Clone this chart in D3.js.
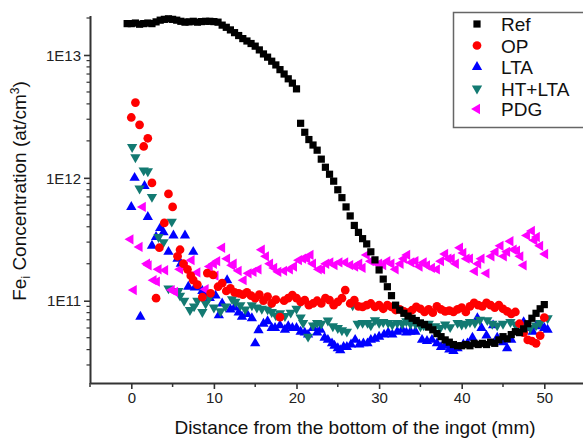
<!DOCTYPE html>
<html><head><meta charset="utf-8">
<script src="https://cdn.jsdelivr.net/npm/d3@7"></script>
<style>
html,body{margin:0;padding:0;background:#fff;}
svg{display:block;font-family:"Liberation Sans",Arial,sans-serif;}
</style></head>
<body><svg id="c" width="583" height="442"></svg>
<script>
// ---- data (x = distance in mm, y = Fe_i concentration in at/cm^3) ----
const seriesNames = ["Ref","OP","LTA","HT+LTA","PDG"];
const xTicks = [0,10,20,30,40,50];
const yTicks = [1e11,1e12,1e13];
const yTickLabels = ["1E11","1E12","1E13"];
const xLabel = "Distance from the bottom of the ingot (mm)";

const refX = [-0.5,0,0.5,1,1.5,2,2.5,3,3.5,4,4.5,5,5.5,6,6.5,7,7.5,8,8.5,9,9.5,10,10.5,11,11.5,12,12.5,13,13.5,14,14.5,15,15.5,16,16.5,17,17.5,18,18.5,19,19.5,20,
  20.5,21,21.5,22,22.5,23,23.5,24,24.5,25,25.5,26,26.5,27,27.5,28,28.5,29,29.5,30,30.5,31,31.5,32,32.5,33,33.5,34,34.5,35,35.5,36,36.5,37,37.5,38,38.5,39,39.5,40,40.5,41,41.5,42,42.5,43,43.5,44,44.5,45,45.5,46,46.5,47,47.5,48,48.5,49,49.5,50];
const refY = [1.80e13,1.80e13,1.82e13,1.78e13,1.80e13,1.82e13,1.80e13,1.86e13,1.92e13,1.95e13,1.97e13,1.95e13,1.92e13,1.88e13,1.85e13,1.86e13,1.88e13,1.85e13,1.87e13,1.88e13,1.88e13,1.87e13,1.85e13,1.75e13,1.68e13,1.60e13,1.52e13,1.44e13,1.36e13,1.30e13,1.24e13,1.18e13,1.10e13,1.02e13,9.6e12,8.9e12,8.3e12,7.6e12,7.0e12,6.4e12,5.9e12,5.3e12,
  2.78e12,2.35e12,2.05e12,1.85e12,1.68e12,1.42e12,1.22e12,1.07e12,9.4e11,8.0e11,6.9e11,5.8e11,4.9e11,4.1e11,3.6e11,3.2e11,2.9e11,2.5e11,2.15e11,1.78e11,1.5e11,1.3e11,1.1e11,9.2e10,8.4e10,7.9e10,7.5e10,7.2e10,6.9e10,6.6e10,6.4e10,6.1e10,5.8e10,5.4e10,5.1e10,4.8e10,4.6e10,4.4e10,4.3e10,4.3e10,4.4e10,4.3e10,4.5e10,4.4e10,4.5e10,4.4e10,4.6e10,4.5e10,4.8e10,5.1e10,4.9e10,5.3e10,5.6e10,5.5e10,5.9e10,6.5e10,7.2e10,7.9e10,8.6e10,9.3e10];

const opX = [0,0.5,1,1.5,2,2.5,3,3.4,4,4.5,5,5.6,5.9,6.3,6.8,7.2,7.5,8,8.6,9.2,9.6,9.9,10.5,11,11.5,12,12.5,13,13.5,14,14.5,15,15.5,16,16.5,17,17.5,18,18.5,19,19.5,20,20.5,21,21.5,22,22.5,23,23.5,24,24.5,25,25.5,25.9,26.5,27,27.5,28,28.5,29,29.5,30,30.5,31,31.5,32,32.5,33,33.5,34,34.5,35,35.5,36,36.5,37,37.5,38,38.5,39,39.5,40,40.5,41,41.5,42,42.5,43,43.5,44,44.5,45,45.5,46,46.5,47,47.5,48,48.5,49,49.5,50];
const opY = [3.1e12,4.1e12,2.7e12,1.8e12,2.1e12,9.1e11,1.05e11,2.7e11,4.3e11,7.4e11,5.8e11,2.3e11,2.6e11,2.0e11,1.8e11,1.6e11,1.47e11,1.35e11,1.07e11,1.68e11,1.15e11,1.62e11,1.3e11,1.39e11,1.2e11,1.26e11,1.17e11,1.15e11,1.12e11,1.17e11,1.1e11,1.05e11,1.12e11,1.0e11,1.08e11,9.5e10,1.02e11,7.35e10,1.0e11,1.05e11,1.11e11,1.05e11,9.8e10,1.01e11,9.2e10,9.5e10,1.0e11,9.5e10,1.05e11,1.01e11,9.2e10,9.8e10,1.05e11,1.22e11,9.5e10,1.01e11,9.0e10,8.9e10,9.2e10,9.5e10,8.9e10,9.2e10,8.6e10,9.2e10,8.9e10,8.4e10,8.5e10,8.2e10,8.0e10,8.4e10,8.9e10,8.6e10,8.1e10,8.5e10,8.0e10,9.0e10,8.5e10,8.2e10,8.3e10,8.1e10,8.5e10,8.8e10,8.1e10,9.0e10,9.6e10,9.2e10,9.0e10,9.6e10,9.2e10,8.8e10,9.2e10,8.6e10,8.2e10,7.8e10,8.1e10,6.5e10,5.5e10,4.8e10,4.7e10,4.5e10,5.2e10,7.3e10];

const ltaX = [0,0.4,1.1,1.6,2,2.5,3,3.5,3.9,4.5,5.1,5.6,6,6.5,6.9,7.5,7.7,8,8.6,9,9.5,10.2,10.6,11,11.6,12,12.5,13,13.4,14,14.6,15,15.4,16,16.5,17,17.4,18,18.6,19,19.5,20,20.5,21,21.4,22,22.5,22.9,23.4,23.8,24.3,24.6,25,25.3,25.7,26.1,26.6,27.1,27.6,28.1,28.6,29,29.5,30,30.6,31.1,31.6,32.2,32.8,33.3,33.8,34.4,35.2,35.8,36.4,37,37.5,38,38.5,39,39.5,40.2,40.7,41.3,41.9,42.4,43,43.8,44.3,45,45.5,46,46.6,47.5,48,48.6,49,49.5,50,50.4];
const ltaY = [5.8e11,1.0e12,7.4e10,8.6e11,4.8e11,2.8e11,3.3e11,3.9e11,3.6e11,2.5e11,3.4e11,2.2e11,2.0e11,3.4e11,1.3e11,2.5e11,1.28e11,1.3e11,1.2e11,1.15e11,1.05e11,1.1e11,7.6e10,9.5e10,1.47e11,8.5e10,8.8e10,8.0e10,7.4e10,7.8e10,7.2e10,4.5e10,5.75e10,6.5e10,6.8e10,6.0e10,6.0e10,6.3e10,5.8e10,6.2e10,6.0e10,6.0e10,5.6e10,5.5e10,5.3e10,6.0e10,5.5e10,5.8e10,5.0e10,4.8e10,4.5e10,4.3e10,4.1e10,3.96e10,4.2e10,4.2e10,4.4e10,4.8e10,4.4e10,4.5e10,4.5e10,4.8e10,4.9e10,5.1e10,5.3e10,5.5e10,5.3e10,5.6e10,5.8e10,5.5e10,5.6e10,5.6e10,4.8e10,4.7e10,4.8e10,4.5e10,4.2e10,4.3e10,4.0e10,3.9e10,4.1e10,4.4e10,4.5e10,5.0e10,7.2e10,6.0e10,5.2e10,6.3e10,5.0e10,4.6e10,4.1e10,4.8e10,5.6e10,6.7e10,6.0e10,5.6e10,6.2e10,6.3e10,6.0e10,5.8e10];

const htX = [0.1,0.5,1,1.5,2,2.5,3.3,3.9,4.5,4.9,5.7,5.9,6.4,7.1,7.6,8,8.6,9,9.4,10,10.8,11.4,12.2,12.6,13.2,13.8,14.6,15.2,15.8,16.5,17,17.5,18,18.6,19.3,20,20.5,20.8,21.4,22,22.5,23,23.8,24.4,25,25.5,26.1,26.8,27.4,28,28.6,29,29.5,30,30.5,31.1,31.6,32.2,32.8,33.3,33.8,34.4,35,35.4,36,36.8,37.4,38,38.6,39.5,40,40.5,41,41.6,42.2,43.1,43.7,44.3,45,45.9,46.5,47.1,47.7,48.3,49,49.5,50.4];
const htY = [1.78e12,1.47e12,8.2e11,1.15e12,1.13e12,7.0e11,3.3e11,3.0e11,1.26e11,4.4e11,1.2e11,1.1e11,1.0e11,8.4e10,9.0e10,1.0e11,8.1e10,9.5e10,1.05e11,8.8e10,8.2e10,9.0e10,1.03e11,9.8e10,9.2e10,8.5e10,9.2e10,8.8e10,8.6e10,8.5e10,8.1e10,7.6e10,7.9e10,7.5e10,8.0e10,8.6e10,7.3e10,6.6e10,5.1e10,6.3e10,6.6e10,6.5e10,6.9e10,6.2e10,6.0e10,5.75e10,5.6e10,9.2e10,6.5e10,6.6e10,6.6e10,6.3e10,6.95e10,6.6e10,6.7e10,6.6e10,6.4e10,6.6e10,6.5e10,6.8e10,6.5e10,6.5e10,6.2e10,6.3e10,6.5e10,6.2e10,6.0e10,6.4e10,6.1e10,6.6e10,6.4e10,6.5e10,6.7e10,6.6e10,7.0e10,6.95e10,6.5e10,6.3e10,6.5e10,6.7e10,6.4e10,6.1e10,6.0e10,6.0e10,6.3e10,6.6e10,7.2e10];

const pdgX = [-0.1,0.3,1,1.4,1.9,2.1,2.7,3.1,3.3,4.1,4.9,5.3,5.9,6.5,7.3,8,9,9.5,10,10.2,10.4,11,11.6,12.2,12.4,13,13.6,14.2,14.8,15.4,15.8,16.3,16.8,17.3,17.8,18.5,19.2,19.7,20.3,20.8,21.3,21.7,22,22.7,23.1,23.6,24.1,24.6,25.2,25.9,26.5,27.1,27.6,28,28.5,29,29.5,30,30.5,31,31.5,32,32.6,33,33.4,33.9,34.4,34.9,35.4,35.8,36.4,37,37.5,38,38.4,38.8,39.3,39.8,40.2,40.6,41,41.6,42,42.4,43,43.6,44.1,44.7,45.1,45.5,45.9,46.3,46.7,47.1,47.5,47.9,48.5,48.8,49.1,49.5,50.1];
const pdgY = [3.16e11,1.22e11,2.74e11,5.8e11,2.0e11,1.94e11,1.47e11,1.43e11,1.8e11,1.77e11,1.22e11,1.18e11,1.8e11,1.9e11,2.14e11,1.7e11,1.24e11,1.9e11,2.0e11,1.6e11,2.1e11,2.7e11,2.2e11,1.94e11,2.0e11,1.75e11,1.47e11,1.67e11,1.72e11,1.8e11,2.6e11,2.3e11,2.0e11,1.85e11,1.72e11,1.75e11,1.8e11,1.9e11,2.14e11,2.2e11,2.2e11,2.36e11,2.0e11,1.8e11,1.8e11,2.0e11,2.05e11,1.95e11,2.05e11,2.05e11,1.95e11,1.9e11,2.0e11,1.85e11,2.36e11,2.1e11,2.05e11,2.0e11,1.95e11,2.1e11,2.0e11,1.8e11,2.0e11,2.2e11,2.36e11,2.05e11,2.1e11,1.9e11,2.05e11,1.94e11,1.85e11,1.8e11,2.1e11,2.4e11,2.2e11,2.2e11,2.0e11,2.7e11,2.45e11,2.2e11,2.2e11,1.74e11,2.0e11,2.2e11,1.67e11,2.3e11,2.5e11,2.8e11,2.3e11,2.5e11,3.05e11,2.6e11,2.55e11,2.3e11,1.94e11,3.4e11,3.7e11,3.1e11,3.3e11,2.8e11,2.4e11];

// ---- chart ----
const svg = d3.select("#c");
const x = d3.scaleLinear().domain([-5, 55]).range([90, 585.6]);
const y = d3.scaleLog().domain([2.14e10, 2.1e13]).range([383, 15.4]);

const axisColor = "#333";
const colors = {"Ref":"#000000","OP":"#ff0000","LTA":"#0000ff","HT+LTA":"#137a72","PDG":"#ff00ff"};
const shapes = {
  "Ref": {type:d3.symbolSquare, size:52, rot:0},
  "OP": {type:d3.symbolCircle, size:60, rot:0},
  "LTA": {type:d3.symbolTriangle, size:46, rot:0},
  "HT+LTA": {type:d3.symbolTriangle, size:46, rot:180},
  "PDG": {type:d3.symbolTriangle, size:46, rot:-90}
};
const data = {
  "Ref": refX.map((v,i)=>[v, refY[i]]),
  "OP": opX.map((v,i)=>[v, opY[i]]),
  "LTA": ltaX.map((v,i)=>[v, ltaY[i]]),
  "HT+LTA": htX.map((v,i)=>[v, htY[i]]),
  "PDG": pdgX.map((v,i)=>[v, pdgY[i]])
};

// axes
const xAxis = d3.axisBottom(x).tickValues(xTicks).tickSize(6).tickSizeOuter(0).tickFormat(d3.format("d"));
const gx = svg.append("g").attr("transform","translate(0,383)").call(xAxis);
const xMinor = [-5,5,15,25,35,45];
gx.selectAll(".minor").data(xMinor).enter().append("line")
  .attr("x1",d=>x(d)).attr("x2",d=>x(d)).attr("y1",0).attr("y2",4)
  .attr("stroke",axisColor).attr("stroke-width",1.5);

const yMinor = [];
[1e10,1e11,1e12,1e13].forEach(dec=>{ for(let k=2;k<=9;k++){ const v=dec*k; if(v>=2.14e10 && v<=2.1e13) yMinor.push(v);} });
const yAxis = d3.axisLeft(y).tickValues(yTicks).tickSize(6).tickSizeOuter(0).tickFormat((d,i)=>yTickLabels[i]);
const gy = svg.append("g").attr("transform","translate(90,0)").call(yAxis);
gy.selectAll(".minor").data(yMinor).enter().append("line")
  .attr("x1",0).attr("x2",-3.5).attr("y1",d=>y(d)).attr("y2",d=>y(d))
  .attr("stroke",axisColor).attr("stroke-width",1.2);

[gx,gy].forEach(g=>{
  g.select(".domain").attr("stroke",axisColor).attr("stroke-width",2);
  g.selectAll(".tick line").attr("stroke",axisColor).attr("stroke-width",1.6);
  g.selectAll(".tick text").attr("fill","#222").style("font-size","15px")
    .style("font-family","'Liberation Sans',Arial,sans-serif");
});
gx.selectAll(".tick text").attr("dy","0.95em").attr("y",6);
gy.selectAll(".tick text").attr("x",-9).attr("dy","0.35em");

// points
const order = ["LTA","HT+LTA","PDG","OP","Ref"];
const plot = svg.append("g");
order.forEach(name=>{
  const s = shapes[name];
  const sym = d3.symbol().type(s.type).size(s.size);
  plot.append("g").selectAll("path").data(data[name]).enter().append("path")
    .attr("d", sym)
    .attr("transform", d=>`translate(${x(d[0])},${y(d[1])}) rotate(${s.rot})`)
    .attr("fill", colors[name]);
});

// axis labels
svg.append("text").attr("x", 355).attr("y", 434).attr("text-anchor","middle")
  .style("font-size","19px").attr("fill","#111").text(xLabel);

const yl = svg.append("text").attr("transform","translate(26,191) rotate(-90)")
  .attr("text-anchor","middle").style("font-size","19px").attr("fill","#111");
yl.append("tspan").text("Fe");
yl.append("tspan").attr("dy",4).style("font-size","12px").text("i");
yl.append("tspan").attr("dy",-4).text(" Concentration (at/cm");
yl.append("tspan").attr("dy",-7).style("font-size","12px").text("3");
yl.append("tspan").attr("dy",7).text(")");

// legend
const lg = svg.append("g");
lg.append("rect").attr("x",453.5).attr("y",12.5).attr("width",140).attr("height",115)
  .attr("fill","#fff").attr("stroke","#666").attr("stroke-width",1.5);
const legY = [24,45.5,67,88.5,109];
seriesNames.forEach((name,i)=>{
  const s = shapes[name];
  const sym = d3.symbol().type(s.type).size(s.size);
  lg.append("path").attr("d",sym)
    .attr("transform",`translate(477,${legY[i]}) rotate(${s.rot})`)
    .attr("fill",colors[name]);
  lg.append("text").attr("x",501).attr("y",legY[i]+7).style("font-size","19px")
    .attr("fill","#111").text(name);
});
</script></body></html>
